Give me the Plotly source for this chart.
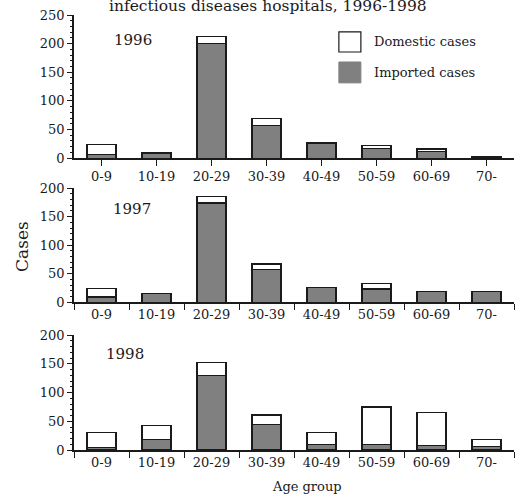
import plotly.graph_objects as go

age_groups = ["0-9", "10-19", "20-29", "30-39", "40-49", "50-59", "60-69", "70-"]
years = ["1996", "1997", "1998"]

imported_1996 = [6, 9, 200, 57, 25, 17, 12, 2]
domestic_1996 = [18, 0, 12, 12, 2, 5, 4, 1]
imported_1997 = [9, 15, 174, 57, 25, 23, 19, 18]
domestic_1997 = [15, 0, 11, 10, 0, 10, 0, 0]
imported_1998 = [5, 18, 130, 45, 10, 10, 8, 6]
domestic_1998 = [26, 25, 22, 16, 20, 65, 57, 12]

y_ranges = [250, 200, 200]
y_tick_vals = [[0, 50, 100, 150, 200, 250], [0, 50, 100, 150, 200], [0, 50, 100, 150, 200]]

FONT = "DejaVu Serif"
GREY = "#808080"
INK = "#1a1a1a"

series = [(imported_1996, domestic_1996), (imported_1997, domestic_1997), (imported_1998, domestic_1998)]
domains = [[0.671, 1.0], [0.340, 0.602], [0.0, 0.264]]

fig = go.Figure()
for i, (imp, dom) in enumerate(series):
    suffix = "" if i == 0 else str(i + 1)
    fig.add_trace(go.Bar(x=age_groups, y=imp, name="Imported cases",
                         marker=dict(color=GREY, line=dict(color=INK, width=1.2)),
                         xaxis="x" + suffix, yaxis="y" + suffix, showlegend=False))
    fig.add_trace(go.Bar(x=age_groups, y=dom, name="Domestic cases",
                         marker=dict(color="white", line=dict(color=INK, width=1.2)),
                         xaxis="x" + suffix, yaxis="y" + suffix, showlegend=False))

layout = dict(
    width=516, height=494,
    margin=dict(l=74, r=2, t=15, b=44),
    paper_bgcolor="white", plot_bgcolor="white",
    barmode="stack", bargap=0.47,
    font=dict(family=FONT, size=13, color=INK),
    showlegend=False,
)
for i in range(3):
    suffix = "" if i == 0 else str(i + 1)
    xa = dict(domain=[0, 1], anchor="y" + suffix, showline=True, linecolor=INK, linewidth=1.5,
              ticks="outside", ticklen=6, tickcolor=INK, tickwidth=1.2,
              tickson="labels" if i == 0 else "boundaries",
              showgrid=False, zeroline=False, tickfont=dict(family=FONT, size=13, color=INK))
    ya = dict(domain=domains[i], anchor="x" + suffix, range=[0, y_ranges[i]],
              tickvals=y_tick_vals[i], showline=True, linecolor=INK, linewidth=1.5,
              ticks="outside", ticklen=5, tickcolor=INK, tickwidth=1.2,
              minor=dict(dtick=10, ticks="outside", ticklen=2, tickcolor=INK, tickwidth=0.8),
              showgrid=False, zeroline=False, tickfont=dict(family=FONT, size=13, color=INK))
    layout["xaxis" + suffix] = xa
    layout["yaxis" + suffix] = ya
fig.update_layout(**layout)


def note(text, x, y, size, **kw):
    fig.add_annotation(text=text, x=x, y=y, xref="paper", yref="paper", showarrow=False,
                       xanchor=kw.pop("xanchor", "center"), yanchor=kw.pop("yanchor", "middle"),
                       font=dict(family=FONT, size=size, color=INK), **kw)


year_pos = [(0.134, 0.943), (0.132, 0.554), (0.116, 0.221)]
for yr, (px, py) in zip(years, year_pos):
    note(yr, px, py, 15)

# title (cut at top in reference)
note("infectious diseases hospitals, 1996-1998", 0.440, 0.995, 15.5, yanchor="bottom")

# axis titles
note("Cases", -0.118, 0.467, 17, textangle=-90)
note("Age group", 0.53, -0.083, 13)

# custom legend
fig.add_shape(type="rect", xref="paper", yref="paper", x0=0.602, x1=0.652, y0=0.915, y1=0.961,
              fillcolor="white", line=dict(color=INK, width=1.2))
fig.add_shape(type="rect", xref="paper", yref="paper", x0=0.602, x1=0.652, y0=0.844, y1=0.892,
              fillcolor=GREY, line=dict(color=GREY, width=1))
note("Domestic cases", 0.677, 0.938, 13, xanchor="left")
note("Imported cases", 0.677, 0.867, 13, xanchor="left")

fig.write_html("out.html", config={"displayModeBar": False},
               post_script="document.body.style.margin='0px';")
